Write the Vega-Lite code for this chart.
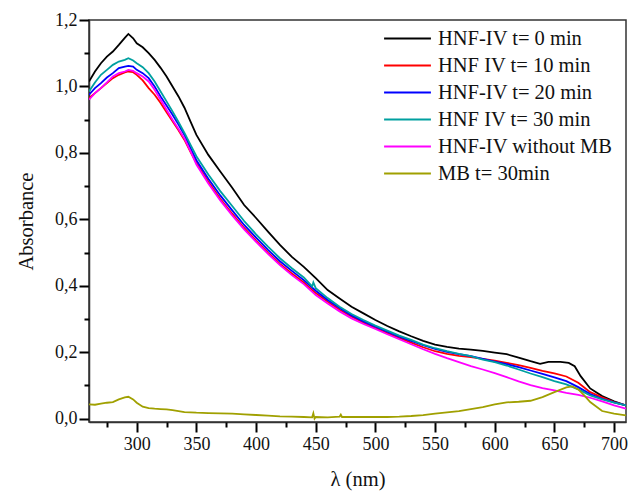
{
  "$schema": "https://vega.github.io/schema/vega-lite/v6.json",
  "width": 537,
  "height": 402,
  "autosize": {"type": "none"},
  "padding": {"left": 89, "top": 20, "right": 4, "bottom": 69},
  "background": "white",
  "config": {
    "view": {"stroke": "#333333", "strokeWidth": 1.5},
    "font": "Liberation Serif",
    "axis": {
      "domainColor": "#333333", "domainWidth": 1.5,
      "labelFont": "Liberation Serif", "labelFontSize": 18, "labelColor": "#111111",
      "titleFont": "Liberation Serif", "titleFontSize": 20.5, "titleFontWeight": "normal", "titleColor": "#111111",
      "grid": false
    },
    "legend": {
      "labelFont": "Liberation Serif", "labelFontSize": 20.5, "labelColor": "#111111", "labelLimit": 400
    }
  },
  "data": {"values": [
    {"series":"HNF-IV t= 0 min","x":260,"y":1.015},{"series":"HNF-IV t= 0 min","x":265,"y":1.045},{"series":"HNF-IV t= 0 min","x":270,"y":1.07},{"series":"HNF-IV t= 0 min","x":275,"y":1.09},{"series":"HNF-IV t= 0 min","x":280,"y":1.105},{"series":"HNF-IV t= 0 min","x":285,"y":1.125},{"series":"HNF-IV t= 0 min","x":290,"y":1.146},{"series":"HNF-IV t= 0 min","x":293,"y":1.158},{"series":"HNF-IV t= 0 min","x":297,"y":1.145},{"series":"HNF-IV t= 0 min","x":300,"y":1.13},{"series":"HNF-IV t= 0 min","x":305,"y":1.118},{"series":"HNF-IV t= 0 min","x":310,"y":1.1},{"series":"HNF-IV t= 0 min","x":315,"y":1.08},{"series":"HNF-IV t= 0 min","x":320,"y":1.056},{"series":"HNF-IV t= 0 min","x":325,"y":1.03},{"series":"HNF-IV t= 0 min","x":330,"y":1.0},{"series":"HNF-IV t= 0 min","x":335,"y":0.97},{"series":"HNF-IV t= 0 min","x":340,"y":0.936},{"series":"HNF-IV t= 0 min","x":345,"y":0.895},{"series":"HNF-IV t= 0 min","x":350,"y":0.854},{"series":"HNF-IV t= 0 min","x":360,"y":0.794},{"series":"HNF-IV t= 0 min","x":370,"y":0.744},{"series":"HNF-IV t= 0 min","x":380,"y":0.695},{"series":"HNF-IV t= 0 min","x":390,"y":0.643},{"series":"HNF-IV t= 0 min","x":400,"y":0.604},{"series":"HNF-IV t= 0 min","x":410,"y":0.563},{"series":"HNF-IV t= 0 min","x":420,"y":0.523},{"series":"HNF-IV t= 0 min","x":430,"y":0.487},{"series":"HNF-IV t= 0 min","x":440,"y":0.457},{"series":"HNF-IV t= 0 min","x":448,"y":0.43},{"series":"HNF-IV t= 0 min","x":450,"y":0.423},{"series":"HNF-IV t= 0 min","x":460,"y":0.387},{"series":"HNF-IV t= 0 min","x":470,"y":0.362},{"series":"HNF-IV t= 0 min","x":480,"y":0.337},{"series":"HNF-IV t= 0 min","x":490,"y":0.317},{"series":"HNF-IV t= 0 min","x":500,"y":0.297},{"series":"HNF-IV t= 0 min","x":510,"y":0.279},{"series":"HNF-IV t= 0 min","x":520,"y":0.263},{"series":"HNF-IV t= 0 min","x":530,"y":0.248},{"series":"HNF-IV t= 0 min","x":540,"y":0.234},{"series":"HNF-IV t= 0 min","x":550,"y":0.223},{"series":"HNF-IV t= 0 min","x":560,"y":0.216},{"series":"HNF-IV t= 0 min","x":570,"y":0.211},{"series":"HNF-IV t= 0 min","x":580,"y":0.208},{"series":"HNF-IV t= 0 min","x":590,"y":0.204},{"series":"HNF-IV t= 0 min","x":600,"y":0.199},{"series":"HNF-IV t= 0 min","x":610,"y":0.194},{"series":"HNF-IV t= 0 min","x":620,"y":0.184},{"series":"HNF-IV t= 0 min","x":630,"y":0.173},{"series":"HNF-IV t= 0 min","x":638,"y":0.165},{"series":"HNF-IV t= 0 min","x":645,"y":0.171},{"series":"HNF-IV t= 0 min","x":655,"y":0.171},{"series":"HNF-IV t= 0 min","x":662,"y":0.168},{"series":"HNF-IV t= 0 min","x":667,"y":0.158},{"series":"HNF-IV t= 0 min","x":672,"y":0.128},{"series":"HNF-IV t= 0 min","x":680,"y":0.091},{"series":"HNF-IV t= 0 min","x":690,"y":0.068},{"series":"HNF-IV t= 0 min","x":700,"y":0.052},{"series":"HNF-IV t= 0 min","x":710,"y":0.04},

    {"series":"HNF IV t= 10 min","x":260,"y":0.965},{"series":"HNF IV t= 10 min","x":265,"y":0.98},{"series":"HNF IV t= 10 min","x":270,"y":0.995},{"series":"HNF IV t= 10 min","x":275,"y":1.01},{"series":"HNF IV t= 10 min","x":280,"y":1.025},{"series":"HNF IV t= 10 min","x":285,"y":1.035},{"series":"HNF IV t= 10 min","x":290,"y":1.042},{"series":"HNF IV t= 10 min","x":293,"y":1.045},{"series":"HNF IV t= 10 min","x":297,"y":1.043},{"series":"HNF IV t= 10 min","x":300,"y":1.035},{"series":"HNF IV t= 10 min","x":305,"y":1.018},{"series":"HNF IV t= 10 min","x":310,"y":0.995},{"series":"HNF IV t= 10 min","x":315,"y":0.975},{"series":"HNF IV t= 10 min","x":320,"y":0.95},{"series":"HNF IV t= 10 min","x":325,"y":0.922},{"series":"HNF IV t= 10 min","x":330,"y":0.895},{"series":"HNF IV t= 10 min","x":335,"y":0.868},{"series":"HNF IV t= 10 min","x":340,"y":0.839},{"series":"HNF IV t= 10 min","x":345,"y":0.803},{"series":"HNF IV t= 10 min","x":350,"y":0.77},{"series":"HNF IV t= 10 min","x":360,"y":0.713},{"series":"HNF IV t= 10 min","x":370,"y":0.662},{"series":"HNF IV t= 10 min","x":380,"y":0.617},{"series":"HNF IV t= 10 min","x":390,"y":0.574},{"series":"HNF IV t= 10 min","x":400,"y":0.536},{"series":"HNF IV t= 10 min","x":410,"y":0.5},{"series":"HNF IV t= 10 min","x":420,"y":0.466},{"series":"HNF IV t= 10 min","x":430,"y":0.437},{"series":"HNF IV t= 10 min","x":440,"y":0.41},{"series":"HNF IV t= 10 min","x":450,"y":0.378},{"series":"HNF IV t= 10 min","x":460,"y":0.352},{"series":"HNF IV t= 10 min","x":470,"y":0.328},{"series":"HNF IV t= 10 min","x":480,"y":0.307},{"series":"HNF IV t= 10 min","x":490,"y":0.289},{"series":"HNF IV t= 10 min","x":500,"y":0.273},{"series":"HNF IV t= 10 min","x":510,"y":0.258},{"series":"HNF IV t= 10 min","x":520,"y":0.243},{"series":"HNF IV t= 10 min","x":530,"y":0.229},{"series":"HNF IV t= 10 min","x":540,"y":0.215},{"series":"HNF IV t= 10 min","x":550,"y":0.203},{"series":"HNF IV t= 10 min","x":560,"y":0.195},{"series":"HNF IV t= 10 min","x":570,"y":0.189},{"series":"HNF IV t= 10 min","x":580,"y":0.185},{"series":"HNF IV t= 10 min","x":590,"y":0.18},{"series":"HNF IV t= 10 min","x":600,"y":0.175},{"series":"HNF IV t= 10 min","x":610,"y":0.168},{"series":"HNF IV t= 10 min","x":620,"y":0.161},{"series":"HNF IV t= 10 min","x":630,"y":0.153},{"series":"HNF IV t= 10 min","x":640,"y":0.144},{"series":"HNF IV t= 10 min","x":650,"y":0.136},{"series":"HNF IV t= 10 min","x":660,"y":0.127},{"series":"HNF IV t= 10 min","x":670,"y":0.108},{"series":"HNF IV t= 10 min","x":680,"y":0.08},{"series":"HNF IV t= 10 min","x":690,"y":0.064},{"series":"HNF IV t= 10 min","x":700,"y":0.05},{"series":"HNF IV t= 10 min","x":710,"y":0.04},

    {"series":"HNF-IV t= 20 min","x":260,"y":0.975},{"series":"HNF-IV t= 20 min","x":265,"y":0.995},{"series":"HNF-IV t= 20 min","x":270,"y":1.01},{"series":"HNF-IV t= 20 min","x":275,"y":1.027},{"series":"HNF-IV t= 20 min","x":280,"y":1.04},{"series":"HNF-IV t= 20 min","x":285,"y":1.055},{"series":"HNF-IV t= 20 min","x":290,"y":1.06},{"series":"HNF-IV t= 20 min","x":293,"y":1.062},{"series":"HNF-IV t= 20 min","x":297,"y":1.06},{"series":"HNF-IV t= 20 min","x":300,"y":1.05},{"series":"HNF-IV t= 20 min","x":305,"y":1.04},{"series":"HNF-IV t= 20 min","x":310,"y":1.025},{"series":"HNF-IV t= 20 min","x":315,"y":1.0},{"series":"HNF-IV t= 20 min","x":320,"y":0.97},{"series":"HNF-IV t= 20 min","x":325,"y":0.943},{"series":"HNF-IV t= 20 min","x":330,"y":0.915},{"series":"HNF-IV t= 20 min","x":335,"y":0.885},{"series":"HNF-IV t= 20 min","x":340,"y":0.854},{"series":"HNF-IV t= 20 min","x":345,"y":0.815},{"series":"HNF-IV t= 20 min","x":350,"y":0.778},{"series":"HNF-IV t= 20 min","x":360,"y":0.722},{"series":"HNF-IV t= 20 min","x":370,"y":0.672},{"series":"HNF-IV t= 20 min","x":380,"y":0.627},{"series":"HNF-IV t= 20 min","x":390,"y":0.583},{"series":"HNF-IV t= 20 min","x":400,"y":0.545},{"series":"HNF-IV t= 20 min","x":410,"y":0.508},{"series":"HNF-IV t= 20 min","x":420,"y":0.474},{"series":"HNF-IV t= 20 min","x":430,"y":0.445},{"series":"HNF-IV t= 20 min","x":440,"y":0.417},{"series":"HNF-IV t= 20 min","x":450,"y":0.385},{"series":"HNF-IV t= 20 min","x":460,"y":0.357},{"series":"HNF-IV t= 20 min","x":470,"y":0.333},{"series":"HNF-IV t= 20 min","x":480,"y":0.311},{"series":"HNF-IV t= 20 min","x":490,"y":0.293},{"series":"HNF-IV t= 20 min","x":500,"y":0.277},{"series":"HNF-IV t= 20 min","x":510,"y":0.262},{"series":"HNF-IV t= 20 min","x":520,"y":0.247},{"series":"HNF-IV t= 20 min","x":530,"y":0.234},{"series":"HNF-IV t= 20 min","x":540,"y":0.221},{"series":"HNF-IV t= 20 min","x":550,"y":0.21},{"series":"HNF-IV t= 20 min","x":560,"y":0.201},{"series":"HNF-IV t= 20 min","x":570,"y":0.194},{"series":"HNF-IV t= 20 min","x":580,"y":0.188},{"series":"HNF-IV t= 20 min","x":590,"y":0.18},{"series":"HNF-IV t= 20 min","x":600,"y":0.172},{"series":"HNF-IV t= 20 min","x":610,"y":0.164},{"series":"HNF-IV t= 20 min","x":620,"y":0.155},{"series":"HNF-IV t= 20 min","x":630,"y":0.145},{"series":"HNF-IV t= 20 min","x":640,"y":0.135},{"series":"HNF-IV t= 20 min","x":650,"y":0.124},{"series":"HNF-IV t= 20 min","x":660,"y":0.113},{"series":"HNF-IV t= 20 min","x":670,"y":0.095},{"series":"HNF-IV t= 20 min","x":680,"y":0.074},{"series":"HNF-IV t= 20 min","x":690,"y":0.06},{"series":"HNF-IV t= 20 min","x":700,"y":0.049},{"series":"HNF-IV t= 20 min","x":710,"y":0.04},

    {"series":"HNF IV t= 30 min","x":260,"y":0.985},{"series":"HNF IV t= 30 min","x":265,"y":1.012},{"series":"HNF IV t= 30 min","x":270,"y":1.035},{"series":"HNF IV t= 30 min","x":275,"y":1.05},{"series":"HNF IV t= 30 min","x":280,"y":1.065},{"series":"HNF IV t= 30 min","x":285,"y":1.075},{"series":"HNF IV t= 30 min","x":290,"y":1.08},{"series":"HNF IV t= 30 min","x":293,"y":1.085},{"series":"HNF IV t= 30 min","x":297,"y":1.078},{"series":"HNF IV t= 30 min","x":300,"y":1.07},{"series":"HNF IV t= 30 min","x":305,"y":1.058},{"series":"HNF IV t= 30 min","x":310,"y":1.04},{"series":"HNF IV t= 30 min","x":315,"y":1.015},{"series":"HNF IV t= 30 min","x":320,"y":0.985},{"series":"HNF IV t= 30 min","x":325,"y":0.955},{"series":"HNF IV t= 30 min","x":330,"y":0.925},{"series":"HNF IV t= 30 min","x":335,"y":0.893},{"series":"HNF IV t= 30 min","x":340,"y":0.86},{"series":"HNF IV t= 30 min","x":345,"y":0.825},{"series":"HNF IV t= 30 min","x":350,"y":0.79},{"series":"HNF IV t= 30 min","x":360,"y":0.735},{"series":"HNF IV t= 30 min","x":370,"y":0.685},{"series":"HNF IV t= 30 min","x":380,"y":0.64},{"series":"HNF IV t= 30 min","x":390,"y":0.595},{"series":"HNF IV t= 30 min","x":400,"y":0.555},{"series":"HNF IV t= 30 min","x":410,"y":0.518},{"series":"HNF IV t= 30 min","x":420,"y":0.483},{"series":"HNF IV t= 30 min","x":430,"y":0.453},{"series":"HNF IV t= 30 min","x":440,"y":0.425},{"series":"HNF IV t= 30 min","x":447,"y":0.398},{"series":"HNF IV t= 30 min","x":448,"y":0.41},{"series":"HNF IV t= 30 min","x":450,"y":0.393},{"series":"HNF IV t= 30 min","x":460,"y":0.363},{"series":"HNF IV t= 30 min","x":470,"y":0.337},{"series":"HNF IV t= 30 min","x":480,"y":0.315},{"series":"HNF IV t= 30 min","x":490,"y":0.297},{"series":"HNF IV t= 30 min","x":500,"y":0.28},{"series":"HNF IV t= 30 min","x":510,"y":0.265},{"series":"HNF IV t= 30 min","x":520,"y":0.25},{"series":"HNF IV t= 30 min","x":530,"y":0.237},{"series":"HNF IV t= 30 min","x":540,"y":0.223},{"series":"HNF IV t= 30 min","x":550,"y":0.212},{"series":"HNF IV t= 30 min","x":560,"y":0.203},{"series":"HNF IV t= 30 min","x":570,"y":0.195},{"series":"HNF IV t= 30 min","x":580,"y":0.188},{"series":"HNF IV t= 30 min","x":590,"y":0.178},{"series":"HNF IV t= 30 min","x":600,"y":0.17},{"series":"HNF IV t= 30 min","x":610,"y":0.16},{"series":"HNF IV t= 30 min","x":620,"y":0.148},{"series":"HNF IV t= 30 min","x":630,"y":0.136},{"series":"HNF IV t= 30 min","x":640,"y":0.125},{"series":"HNF IV t= 30 min","x":650,"y":0.113},{"series":"HNF IV t= 30 min","x":660,"y":0.103},{"series":"HNF IV t= 30 min","x":670,"y":0.088},{"series":"HNF IV t= 30 min","x":680,"y":0.07},{"series":"HNF IV t= 30 min","x":690,"y":0.058},{"series":"HNF IV t= 30 min","x":700,"y":0.048},{"series":"HNF IV t= 30 min","x":710,"y":0.04},

    {"series":"HNF-IV without MB","x":260,"y":0.96},{"series":"HNF-IV without MB","x":265,"y":0.98},{"series":"HNF-IV without MB","x":270,"y":0.995},{"series":"HNF-IV without MB","x":275,"y":1.012},{"series":"HNF-IV without MB","x":280,"y":1.03},{"series":"HNF-IV without MB","x":285,"y":1.04},{"series":"HNF-IV without MB","x":290,"y":1.045},{"series":"HNF-IV without MB","x":293,"y":1.05},{"series":"HNF-IV without MB","x":297,"y":1.047},{"series":"HNF-IV without MB","x":300,"y":1.04},{"series":"HNF-IV without MB","x":305,"y":1.03},{"series":"HNF-IV without MB","x":310,"y":1.015},{"series":"HNF-IV without MB","x":315,"y":0.99},{"series":"HNF-IV without MB","x":320,"y":0.96},{"series":"HNF-IV without MB","x":325,"y":0.93},{"series":"HNF-IV without MB","x":330,"y":0.9},{"series":"HNF-IV without MB","x":335,"y":0.872},{"series":"HNF-IV without MB","x":340,"y":0.843},{"series":"HNF-IV without MB","x":345,"y":0.805},{"series":"HNF-IV without MB","x":350,"y":0.765},{"series":"HNF-IV without MB","x":360,"y":0.708},{"series":"HNF-IV without MB","x":370,"y":0.657},{"series":"HNF-IV without MB","x":380,"y":0.612},{"series":"HNF-IV without MB","x":390,"y":0.57},{"series":"HNF-IV without MB","x":400,"y":0.532},{"series":"HNF-IV without MB","x":410,"y":0.496},{"series":"HNF-IV without MB","x":420,"y":0.462},{"series":"HNF-IV without MB","x":430,"y":0.432},{"series":"HNF-IV without MB","x":440,"y":0.405},{"series":"HNF-IV without MB","x":450,"y":0.372},{"series":"HNF-IV without MB","x":460,"y":0.347},{"series":"HNF-IV without MB","x":470,"y":0.323},{"series":"HNF-IV without MB","x":480,"y":0.302},{"series":"HNF-IV without MB","x":490,"y":0.285},{"series":"HNF-IV without MB","x":500,"y":0.27},{"series":"HNF-IV without MB","x":510,"y":0.254},{"series":"HNF-IV without MB","x":520,"y":0.239},{"series":"HNF-IV without MB","x":530,"y":0.224},{"series":"HNF-IV without MB","x":540,"y":0.209},{"series":"HNF-IV without MB","x":550,"y":0.195},{"series":"HNF-IV without MB","x":560,"y":0.182},{"series":"HNF-IV without MB","x":570,"y":0.17},{"series":"HNF-IV without MB","x":580,"y":0.158},{"series":"HNF-IV without MB","x":590,"y":0.148},{"series":"HNF-IV without MB","x":600,"y":0.137},{"series":"HNF-IV without MB","x":610,"y":0.125},{"series":"HNF-IV without MB","x":620,"y":0.112},{"series":"HNF-IV without MB","x":630,"y":0.101},{"series":"HNF-IV without MB","x":640,"y":0.092},{"series":"HNF-IV without MB","x":650,"y":0.085},{"series":"HNF-IV without MB","x":660,"y":0.078},{"series":"HNF-IV without MB","x":670,"y":0.072},{"series":"HNF-IV without MB","x":680,"y":0.063},{"series":"HNF-IV without MB","x":690,"y":0.052},{"series":"HNF-IV without MB","x":700,"y":0.04},{"series":"HNF-IV without MB","x":710,"y":0.03},

    {"series":"MB t= 30min","x":260,"y":0.043},{"series":"MB t= 30min","x":265,"y":0.042},{"series":"MB t= 30min","x":270,"y":0.045},{"series":"MB t= 30min","x":275,"y":0.048},{"series":"MB t= 30min","x":280,"y":0.05},{"series":"MB t= 30min","x":285,"y":0.058},{"series":"MB t= 30min","x":290,"y":0.064},{"series":"MB t= 30min","x":293,"y":0.066},{"series":"MB t= 30min","x":297,"y":0.058},{"series":"MB t= 30min","x":300,"y":0.048},{"series":"MB t= 30min","x":305,"y":0.036},{"series":"MB t= 30min","x":310,"y":0.032},{"series":"MB t= 30min","x":315,"y":0.03},{"series":"MB t= 30min","x":320,"y":0.029},{"series":"MB t= 30min","x":325,"y":0.028},{"series":"MB t= 30min","x":330,"y":0.026},{"series":"MB t= 30min","x":340,"y":0.02},{"series":"MB t= 30min","x":350,"y":0.018},{"series":"MB t= 30min","x":360,"y":0.017},{"series":"MB t= 30min","x":370,"y":0.016},{"series":"MB t= 30min","x":380,"y":0.015},{"series":"MB t= 30min","x":390,"y":0.013},{"series":"MB t= 30min","x":400,"y":0.011},{"series":"MB t= 30min","x":410,"y":0.009},{"series":"MB t= 30min","x":420,"y":0.007},{"series":"MB t= 30min","x":430,"y":0.006},{"series":"MB t= 30min","x":440,"y":0.005},{"series":"MB t= 30min","x":447,"y":0.004},{"series":"MB t= 30min","x":448,"y":0.016},{"series":"MB t= 30min","x":449,"y":0.0},{"series":"MB t= 30min","x":450,"y":0.005},{"series":"MB t= 30min","x":460,"y":0.004},{"series":"MB t= 30min","x":470,"y":0.006},{"series":"MB t= 30min","x":471,"y":0.012},{"series":"MB t= 30min","x":472,"y":0.005},{"series":"MB t= 30min","x":480,"y":0.005},{"series":"MB t= 30min","x":490,"y":0.005},{"series":"MB t= 30min","x":500,"y":0.005},{"series":"MB t= 30min","x":510,"y":0.005},{"series":"MB t= 30min","x":520,"y":0.006},{"series":"MB t= 30min","x":530,"y":0.008},{"series":"MB t= 30min","x":540,"y":0.011},{"series":"MB t= 30min","x":550,"y":0.015},{"series":"MB t= 30min","x":560,"y":0.019},{"series":"MB t= 30min","x":570,"y":0.023},{"series":"MB t= 30min","x":580,"y":0.029},{"series":"MB t= 30min","x":590,"y":0.035},{"series":"MB t= 30min","x":600,"y":0.043},{"series":"MB t= 30min","x":610,"y":0.049},{"series":"MB t= 30min","x":620,"y":0.051},{"series":"MB t= 30min","x":630,"y":0.054},{"series":"MB t= 30min","x":640,"y":0.065},{"series":"MB t= 30min","x":650,"y":0.08},{"series":"MB t= 30min","x":660,"y":0.094},{"series":"MB t= 30min","x":665,"y":0.097},{"series":"MB t= 30min","x":670,"y":0.088},{"series":"MB t= 30min","x":675,"y":0.07},{"series":"MB t= 30min","x":680,"y":0.05},{"series":"MB t= 30min","x":690,"y":0.023},{"series":"MB t= 30min","x":700,"y":0.015},{"series":"MB t= 30min","x":710,"y":0.01}
  ]},
  "layer": [
    {
      "mark": {"type": "line", "strokeWidth": 1.8, "clip": true},
      "encoding": {
        "x": {
          "field": "x", "type": "quantitative",
          "scale": {"domain": [260, 710], "nice": false, "zero": false},
          "axis": {
            "orient": "bottom",
            "title": "λ (nm)",
            "values": [300, 350, 400, 450, 500, 550, 600, 650, 700],
            "ticks": true,
            "tickSize": 10,
            "tickColor": "black",
            "tickWidth": 2,
            "labelPadding": 3,
            "titlePadding": 16,
            "labelFlush": false
          }
        },
        "y": {
          "field": "y", "type": "quantitative",
          "scale": {"domain": [-0.01, 1.2], "nice": false, "zero": false},
          "axis": {
            "orient": "left",
            "title": "Absorbance",
            "values": [0, 0.2, 0.4, 0.6, 0.8, 1.0, 1.2],
            "labelExpr": "replace(format(datum.value, '.1f'), '.', ',')",
            "ticks": true,
            "tickSize": 10,
            "tickColor": "black",
            "tickWidth": 2,
            "labelPadding": 2,
            "titlePadding": 18,
            "labelFlush": false
          }
        },
        "color": {
          "field": "series", "type": "nominal",
          "scale": {
            "domain": ["HNF-IV t= 0 min", "HNF IV t= 10 min", "HNF-IV t= 20 min", "HNF IV t= 30 min", "HNF-IV without MB", "MB t= 30min"],
            "range": ["#000000", "#ff0000", "#0000ff", "#00a0a0", "#ff00ff", "#a0a000"]
          },
          "legend": {
            "title": null,
            "orient": "none",
            "legendX": 304,
            "legendY": 4,
            "symbolType": "M-1.77,0L1.77,0",
            "symbolSize": 700,
            "symbolStrokeWidth": 2,
            "labelOffset": 16,
            "rowPadding": 2
          }
        }
      }
    },
    {
      "mark": {"type": "line", "strokeWidth": 1.8, "strokeOpacity": 0, "clip": true},
      "encoding": {
        "x": {
          "field": "x", "type": "quantitative",
          "axis": {
            "orient": "bottom",
            "title": null,
            "values": [275, 325, 375, 425, 475, 525, 575, 625, 675],
            "labels": false,
            "domain": false,
            "ticks": true,
            "tickSize": 5,
            "tickColor": "black",
            "tickWidth": 2
          }
        },
        "y": {
          "field": "y", "type": "quantitative",
          "axis": {
            "orient": "left",
            "title": null,
            "values": [0.1, 0.3, 0.5, 0.7, 0.9, 1.1],
            "labels": false,
            "domain": false,
            "ticks": true,
            "tickSize": 5,
            "tickColor": "black",
            "tickWidth": 2
          }
        },
        "color": {"field": "series", "type": "nominal"}
      }
    }
  ],
  "resolve": {"axis": {"x": "independent", "y": "independent"}}
}
